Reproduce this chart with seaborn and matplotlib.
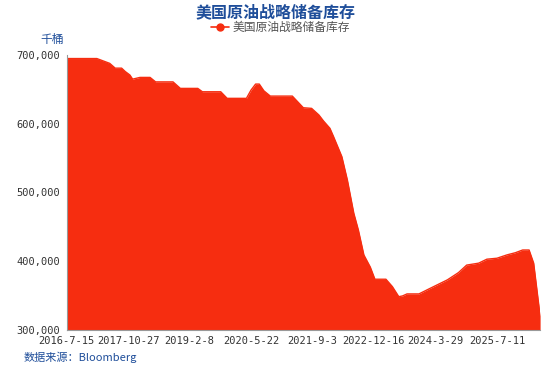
import numpy as np
import pandas as pd
import matplotlib.pyplot as plt
import matplotlib.dates as mdates
from matplotlib.ticker import FuncFormatter
from matplotlib.lines import Line2D
import seaborn as sns

# 周度数据的转折点（千桶）
dates = [
    "2016-07-15", "2017-03-03", "2017-06-09", "2017-07-21", "2017-09-08",
    "2017-10-06", "2017-11-10", "2017-12-01", "2018-01-26", "2018-04-13",
    "2018-05-25", "2018-10-05", "2018-11-30", "2019-04-12", "2019-05-17",
    "2019-10-04", "2019-11-22", "2020-04-17", "2020-05-22", "2020-06-26",
    "2020-07-24", "2020-08-28", "2020-10-16", "2021-04-02", "2021-06-25",
    "2021-08-27", "2021-10-22", "2021-11-26", "2022-01-14", "2022-02-11",
    "2022-04-15", "2022-05-27", "2022-07-15", "2022-08-19", "2022-09-30",
    "2022-11-18", "2022-12-23", "2023-03-17", "2023-05-05", "2023-06-23",
    "2023-07-21", "2023-08-25", "2023-11-24", "2024-02-16", "2024-06-28",
    "2024-09-20", "2024-11-22", "2025-02-21", "2025-04-25", "2025-07-11",
    "2025-09-26", "2025-11-28", "2026-01-23", "2026-03-13", "2026-04-17",
    "2026-06-05",
]
stocks = [
    695000, 695000, 688000, 681000, 681000,
    676000, 671000, 665000, 667500, 667500,
    661000, 661000, 651500, 651500, 646600,
    646600, 637000, 637000, 649000, 657800,
    657800, 648000, 640300, 640300, 623300,
    622400, 612700, 604000, 593300, 581000,
    552000, 518000, 469600, 445000, 408700,
    391000, 373400, 373400, 362700, 348000,
    349000, 352000, 352000, 360000, 372500,
    383000, 394000, 396800, 402600, 404000,
    408900, 412000, 416000, 416000, 396800,
    320000,
]
tick_dates = ["2016-07-15", "2017-10-27", "2019-02-08", "2020-05-22",
              "2021-09-03", "2022-12-16", "2024-03-29", "2025-07-11"]
tick_labels = ["2016-7-15", "2017-10-27", "2019-2-8", "2020-5-22",
               "2021-9-3", "2022-12-16", "2024-3-29", "2025-7-11"]
series_name = "美国原油战略储备库存"

df = pd.DataFrame({"date": pd.to_datetime(dates), "value": stocks})

sns.set_style("white")
plt.rcParams["font.family"] = ["Noto Sans CJK SC", "DejaVu Sans"]

red = "#F62D10"
blue = "#1F4E9A"
grey = "#555555"

fig = plt.figure(figsize=(5.5, 3.65), dpi=100)
ax = fig.add_axes([0.121, 0.097, 0.861, 0.752])

ax.fill_between(df["date"], 300000, df["value"], color=red, linewidth=0)
sns.lineplot(data=df, x="date", y="value", color=red, linewidth=1, ax=ax)

ax.set_xlim(df["date"].iloc[0], df["date"].iloc[-1])
ax.set_ylim(300000, 700000)
ax.set_yticks([300000, 400000, 500000, 600000, 700000])
ax.yaxis.set_major_formatter(FuncFormatter(lambda v, p: f"{int(v):,}"))
ax.set_xticks(pd.to_datetime(tick_dates))
ax.set_xticklabels(tick_labels)
ax.set_xlabel("")
ax.set_ylabel("")

for side in ["top", "right"]:
    ax.spines[side].set_visible(False)
for side in ["left", "bottom"]:
    ax.spines[side].set_color("#999999")
    ax.spines[side].set_linewidth(0.8)
ax.tick_params(axis="both", length=3, width=0.8, color="#999999",
               labelsize=7.5, labelcolor="#333333", pad=1.5)
for lbl in ax.get_xticklabels() + ax.get_yticklabels():
    lbl.set_family("DejaVu Sans Mono")

fig.text(0.5, 0.965, series_name, ha="center", va="center",
         fontsize=11.5, fontweight="bold", color=blue)
handle = Line2D([0], [0], color=red, marker="o", markersize=5, linewidth=1.2)
fig.legend([handle], [series_name], loc="center", bbox_to_anchor=(0.51, 0.925),
           frameon=False, fontsize=8.5, labelcolor=grey, handlelength=1.6,
           handletextpad=0.3)
fig.text(0.095, 0.893, "千桶", ha="center", va="center", fontsize=8.5, color=blue)
fig.text(0.042, 0.022, "数据来源：Bloomberg", ha="left", va="center",
         fontsize=8, color=blue)

fig.savefig("out.png", dpi=100)
